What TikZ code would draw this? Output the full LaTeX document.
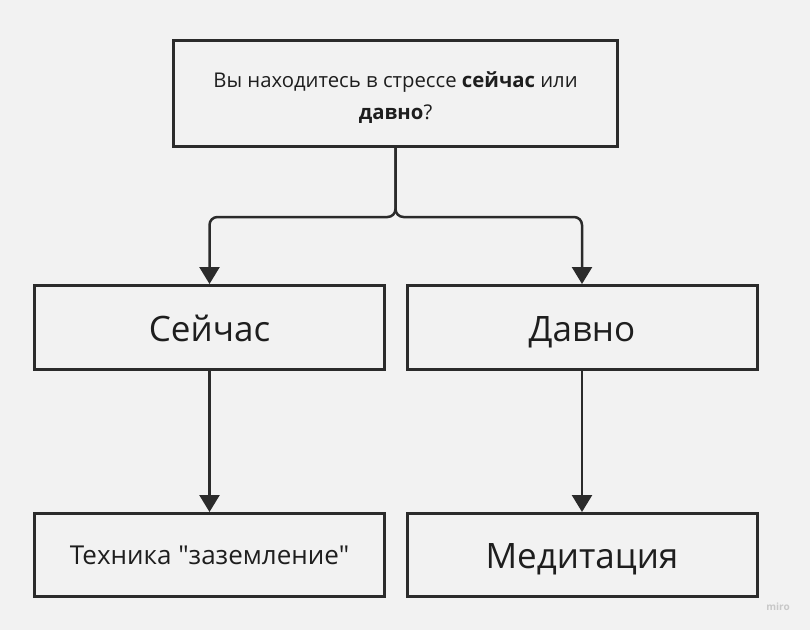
\documentclass[tikz,border=0pt]{standalone}
\usepackage{fontspec}
\setmainfont{Open Sans}[Ligatures=TeXOff]
\usetikzlibrary{arrows.meta}
\definecolor{bg}{HTML}{F2F2F2}
\definecolor{ink}{HTML}{2B2B2B}
\definecolor{txt}{HTML}{1E1E1E}
\definecolor{mark}{HTML}{C8C8C8}
\begin{document}
\begin{tikzpicture}[x=1pt,y=-1pt,
  box/.style={draw=ink, line width=3pt, fill=bg, text=txt, inner sep=0pt, align=center},
  big/.style={box, minimum width=350pt, minimum height=84pt, font=\fontsize{35}{40}\selectfont, text height=27pt, text depth=0pt},
  conn/.style={draw=ink, line width=2.5pt, -{Triangle[width=20pt,length=17pt]}},
  trunk/.style={conn, rounded corners=8pt}]
\fill[bg] (0,0) rectangle (810,630);
\useasboundingbox (0,0) rectangle (810,630);
\node[box, minimum width=444pt, minimum height=106pt, font=\fontsize{20.3}{32}\selectfont, text height=55pt] (q) at (395.5,93.5)
  {Вы находитесь в стрессе \textbf{сейчас} или\\ \textbf{давно}?};
\node[big] (s) at (209.5,327.5) {Сейчас};
\node[big] (d) at (582,327.5) {Давно};
\node[box, minimum width=350pt, minimum height=83pt, font=\fontsize{26}{30}\selectfont, text height=18pt, text depth=0pt] (t) at (209.5,555) {Техника "заземление"};
\node[big, minimum height=83pt] (m) at (582,555) {Медитация};
\coordinate (j) at (396,217);
\draw[trunk] (q.south) -- (q.south |- j) -| (s.north);
\draw[trunk] (q.south) -- (q.south |- j) -| (d.north);
\draw[conn] (s.south) -- (t.north);
\draw[conn] (d.south) -- (m.north);
\node[text=mark, font=\fontsize{10}{12}\selectfont\bfseries] (w) at (778,607) {miro};
\end{tikzpicture}
\end{document}
